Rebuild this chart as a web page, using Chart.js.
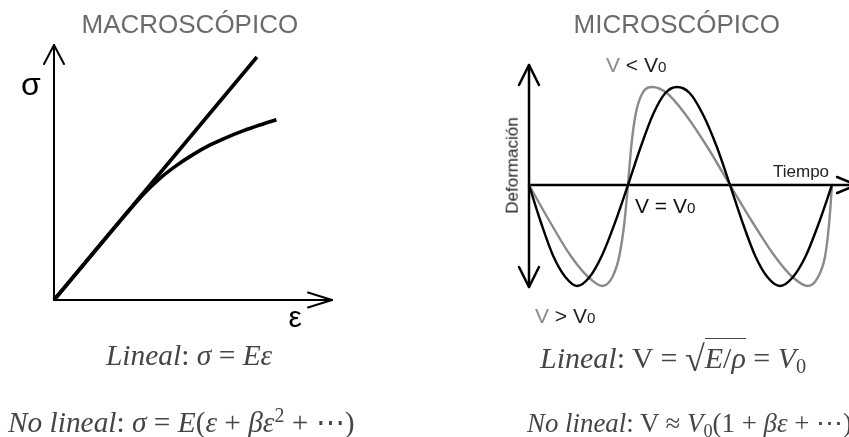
<!DOCTYPE html>
<html><head><meta charset="utf-8">
<script src="https://cdn.jsdelivr.net/npm/chart.js@4.4.1/dist/chart.umd.min.js"></script>
<style>
html,body{margin:0;padding:0;background:#fff;width:849px;height:437px;overflow:hidden;}
body{position:relative;font-family:"Liberation Sans",Arial,sans-serif;}
canvas{position:absolute;top:0;}
.t{position:absolute;white-space:nowrap;line-height:1;}
.sub{font-size:0.72em;}
.eq{position:absolute;white-space:nowrap;line-height:1;font-family:"Liberation Serif","DejaVu Serif",serif;color:#454545;}
.eq i{font-style:italic;}
.eq sub{font-size:0.68em;vertical-align:-0.25em;line-height:0;font-style:normal;}
.eq sup{font-size:0.68em;vertical-align:0.5em;line-height:0;font-style:normal;}
.ov{border-top:1.4px solid #454545;padding-top:2px;}
.rad{font-style:normal;font-size:1.2em;vertical-align:-0.08em;}
</style></head>
<body>
<canvas id="macro" width="425" height="437" style="left:0px;width:425px;height:437px"></canvas>
<canvas id="micro" width="424" height="437" style="left:425px;width:424px;height:437px"></canvas>
<script>
// ---------- DATA ----------
// Macroscopic: stress (σ) vs strain (ε), arbitrary units 0..10
const strainLinear    = [0, 7.30];
const stressLinear    = [0, 9.53];
const strainNonlinear = [0, 1.5, 2.5, 3.2, 3.8, 4.4, 5.0, 5.6, 6.2, 6.8, 7.4, 8.0];
const stressNonlinear = [0, 1.96, 3.26, 4.13, 4.76, 5.27, 5.70, 6.07, 6.37, 6.63, 6.86, 7.07];

// Microscopic: deformation vs time (V = V0 black, distorted wave gray)
const timeLinear = [0, 0.06, 0.12, 0.18, 0.238, 0.30, 0.36, 0.425, 0.49, 0.553, 0.615, 0.675, 0.733,
                    0.795, 0.86, 0.93, 0.995, 1.058, 1.12, 1.18, 1.243, 1.307, 1.37, 1.435, 1.5];
const deformLinear = [0, -0.38, -0.71, -0.92, -1.01, -0.92, -0.71, -0.38, 0, 0.38, 0.71, 0.92, 0.98,
                      0.92, 0.71, 0.38, 0, -0.38, -0.71, -0.92, -1.01, -0.92, -0.71, -0.38, 0];
const timeNonlinear = [0, 0.107, 0.207, 0.293, 0.362, 0.413, 0.447, 0.472, 0.49, 0.506, 0.528, 0.562, 0.609,
                       0.682, 0.773, 0.883, 0.995, 1.109, 1.216, 1.304, 1.381, 1.431, 1.466, 1.486, 1.5];
const deformNonlinear = [0, -0.38, -0.71, -0.92, -1.01, -0.92, -0.71, -0.38, 0, 0.38, 0.71, 0.92, 0.98,
                         0.92, 0.71, 0.38, 0, -0.38, -0.71, -0.92, -1.01, -0.92, -0.71, -0.38, 0];

const toXY = (xs, ys) => xs.map((x, i) => ({x: x, y: ys[i]}));

// ---------- axis/arrow plugin ----------
function line(ctx, a, b, c, d){ctx.beginPath();ctx.moveTo(a,b);ctx.lineTo(c,d);ctx.stroke();}
function arrowHead(ctx, tx, ty, dir, len, half){
  ctx.beginPath();
  if(dir==='up'){ctx.moveTo(tx-half,ty+len);ctx.lineTo(tx,ty);ctx.lineTo(tx+half,ty+len);}
  if(dir==='down'){ctx.moveTo(tx-half,ty-len);ctx.lineTo(tx,ty);ctx.lineTo(tx+half,ty-len);}
  if(dir==='right'){ctx.moveTo(tx-len,ty-half);ctx.lineTo(tx,ty);ctx.lineTo(tx-len,ty+half);}
  ctx.stroke();
}
const macroAxes = {
  id:'macroAxes',
  beforeDatasetsDraw(chart){
    const ctx=chart.ctx, xs=chart.scales.x, ys=chart.scales.y;
    const x0=xs.getPixelForValue(0), y0=ys.getPixelForValue(0);
    const xt=xs.getPixelForValue(10), yt=ys.getPixelForValue(10);
    ctx.save();ctx.strokeStyle='#000';ctx.lineWidth=2;ctx.lineCap='round';ctx.lineJoin='round';
    line(ctx,x0,y0,x0,yt); line(ctx,x0,y0,xt,y0);
    arrowHead(ctx,x0,yt,'up',19,10);
    arrowHead(ctx,xt,y0,'right',24,7.5);
    ctx.restore();
  }
};
const microAxes = {
  id:'microAxes',
  beforeDatasetsDraw(chart){
    const ctx=chart.ctx, xs=chart.scales.x, ys=chart.scales.y;
    const x0=xs.getPixelForValue(0), y0=ys.getPixelForValue(0);
    const yt=ys.getPixelForValue(1.2), yb=ys.getPixelForValue(-1.02);
    const xe=xs.getPixelForValue(1.624);
    ctx.save();ctx.strokeStyle='#000';ctx.lineWidth=2.5;ctx.lineCap='round';ctx.lineJoin='round';
    line(ctx,x0,yt,x0,yb); line(ctx,x0,y0,xe,y0);
    arrowHead(ctx,x0,yt,'up',20,10);
    arrowHead(ctx,x0,yb,'down',20,10);
    arrowHead(ctx,xe,y0,'right',20,8);
    ctx.restore();
  }
};

const hidden = {display:false};
new Chart(document.getElementById('macro'), {
  type:'scatter',
  data:{datasets:[
    {data:toXY(strainLinear, stressLinear), showLine:true, borderColor:'#000', borderWidth:3.6, pointRadius:0, clip:false},
    {data:toXY(strainNonlinear, stressNonlinear), showLine:true, borderColor:'#000', borderWidth:3.6, pointRadius:0, cubicInterpolationMode:'monotone', clip:false}
  ]},
  options:{
    responsive:false, animation:false, devicePixelRatio:1,
    layout:{padding:{left:54, right:93, top:45, bottom:137}},
    scales:{x:{type:'linear', min:0, max:10, ...hidden}, y:{type:'linear', min:0, max:10, ...hidden}},
    plugins:{legend:{display:false}, tooltip:{enabled:false}}
  },
  plugins:[macroAxes]
});
new Chart(document.getElementById('micro'), {
  type:'scatter',
  data:{datasets:[
    {data:toXY(timeLinear, deformLinear), showLine:true, borderColor:'#000', borderWidth:2.4, pointRadius:0, cubicInterpolationMode:'monotone', clip:false},
    {data:toXY(timeNonlinear, deformNonlinear), showLine:true, borderColor:'#8a8a8a', borderWidth:2.4, pointRadius:0, cubicInterpolationMode:'monotone', clip:false}
  ]},
  options:{
    responsive:false, animation:false, devicePixelRatio:1,
    layout:{padding:{left:104, right:17, top:65, bottom:132}},
    scales:{x:{type:'linear', min:0, max:1.5, ...hidden}, y:{type:'linear', min:-1.2, max:1.2, ...hidden}},
    plugins:{legend:{display:false}, tooltip:{enabled:false}}
  },
  plugins:[microAxes]
});

// ---------- text ----------
function addText(html, x, baseline, fs, color, align){
  const d=document.createElement('div'); d.className='t'; d.innerHTML=html;
  d.style.fontSize=fs+'px'; d.style.color=color;
  document.body.appendChild(d);
  const w=d.offsetWidth;
  const left = align==='center' ? x-w/2 : x;
  d.style.left=left+'px'; d.style.top=(baseline-0.8465*fs)+'px';
  return d;
}
addText('MACROSCÓPICO', 190, 33, 26, '#6b6b6b', 'center');
addText('MICROSCÓPICO', 677, 33, 26, '#6b6b6b', 'center');
addText('σ', 31, 95, 32, '#000', 'center');
addText('ε', 295, 327, 30, '#000', 'center');
addText('<span style="color:#8a8a8a">V</span> &lt; V<span class="sub">0</span>', 606, 72, 21, '#222', 'left');
addText('V = V<span class="sub">0</span>', 635, 213, 21, '#111', 'left');
addText('<span style="color:#8a8a8a">V</span> &gt; V<span class="sub">0</span>', 535, 323, 21, '#222', 'left');
addText('Tiempo', 773, 177, 17, '#222', 'left');
(function(){
  const d=document.createElement('div'); d.className='t'; d.textContent='Deformación';
  d.style.fontSize='17px'; d.style.color='#222'; document.body.appendChild(d);
  const w=d.offsetWidth, h=d.offsetHeight;
  d.style.left=(511.5-w/2)+'px'; d.style.top=(165.5-h/2)+'px';
  d.style.transform='rotate(-90deg)';
})();

const equations = [
  {html:'<i>Lineal</i>: <i>σ</i> = <i>Eε</i>', x0:106, x1:272, base:366},
  {html:'<i>No lineal</i>: <i>σ</i> = <i>E</i>(<i>ε</i> + <i>βε</i><sup>2</sup> + ⋯)', x0:8, x1:355, base:433},
  {html:'<i>Lineal</i>: V = <span class="rad">√</span><span class="ov"><i>E</i>/<i>ρ</i></span> = <i>V</i><sub>0</sub>', x0:540, x1:806, base:366},
  {html:'<i>No lineal</i>: V ≈ <i>V</i><sub>0</sub>(1 + <i>βε</i> + ⋯)', x0:527, x1:852, base:433}
];
equations.forEach(e=>{
  const d=document.createElement('div'); d.className='eq'; d.innerHTML=e.html;
  let fs=22; d.style.fontSize=fs+'px'; document.body.appendChild(d);
  fs = fs*(e.x1-e.x0)/d.offsetWidth; d.style.fontSize=fs+'px';
  d.style.left=e.x0+'px'; d.style.top=(e.base-0.8375*fs)+'px';
});
</script>
</body></html>
